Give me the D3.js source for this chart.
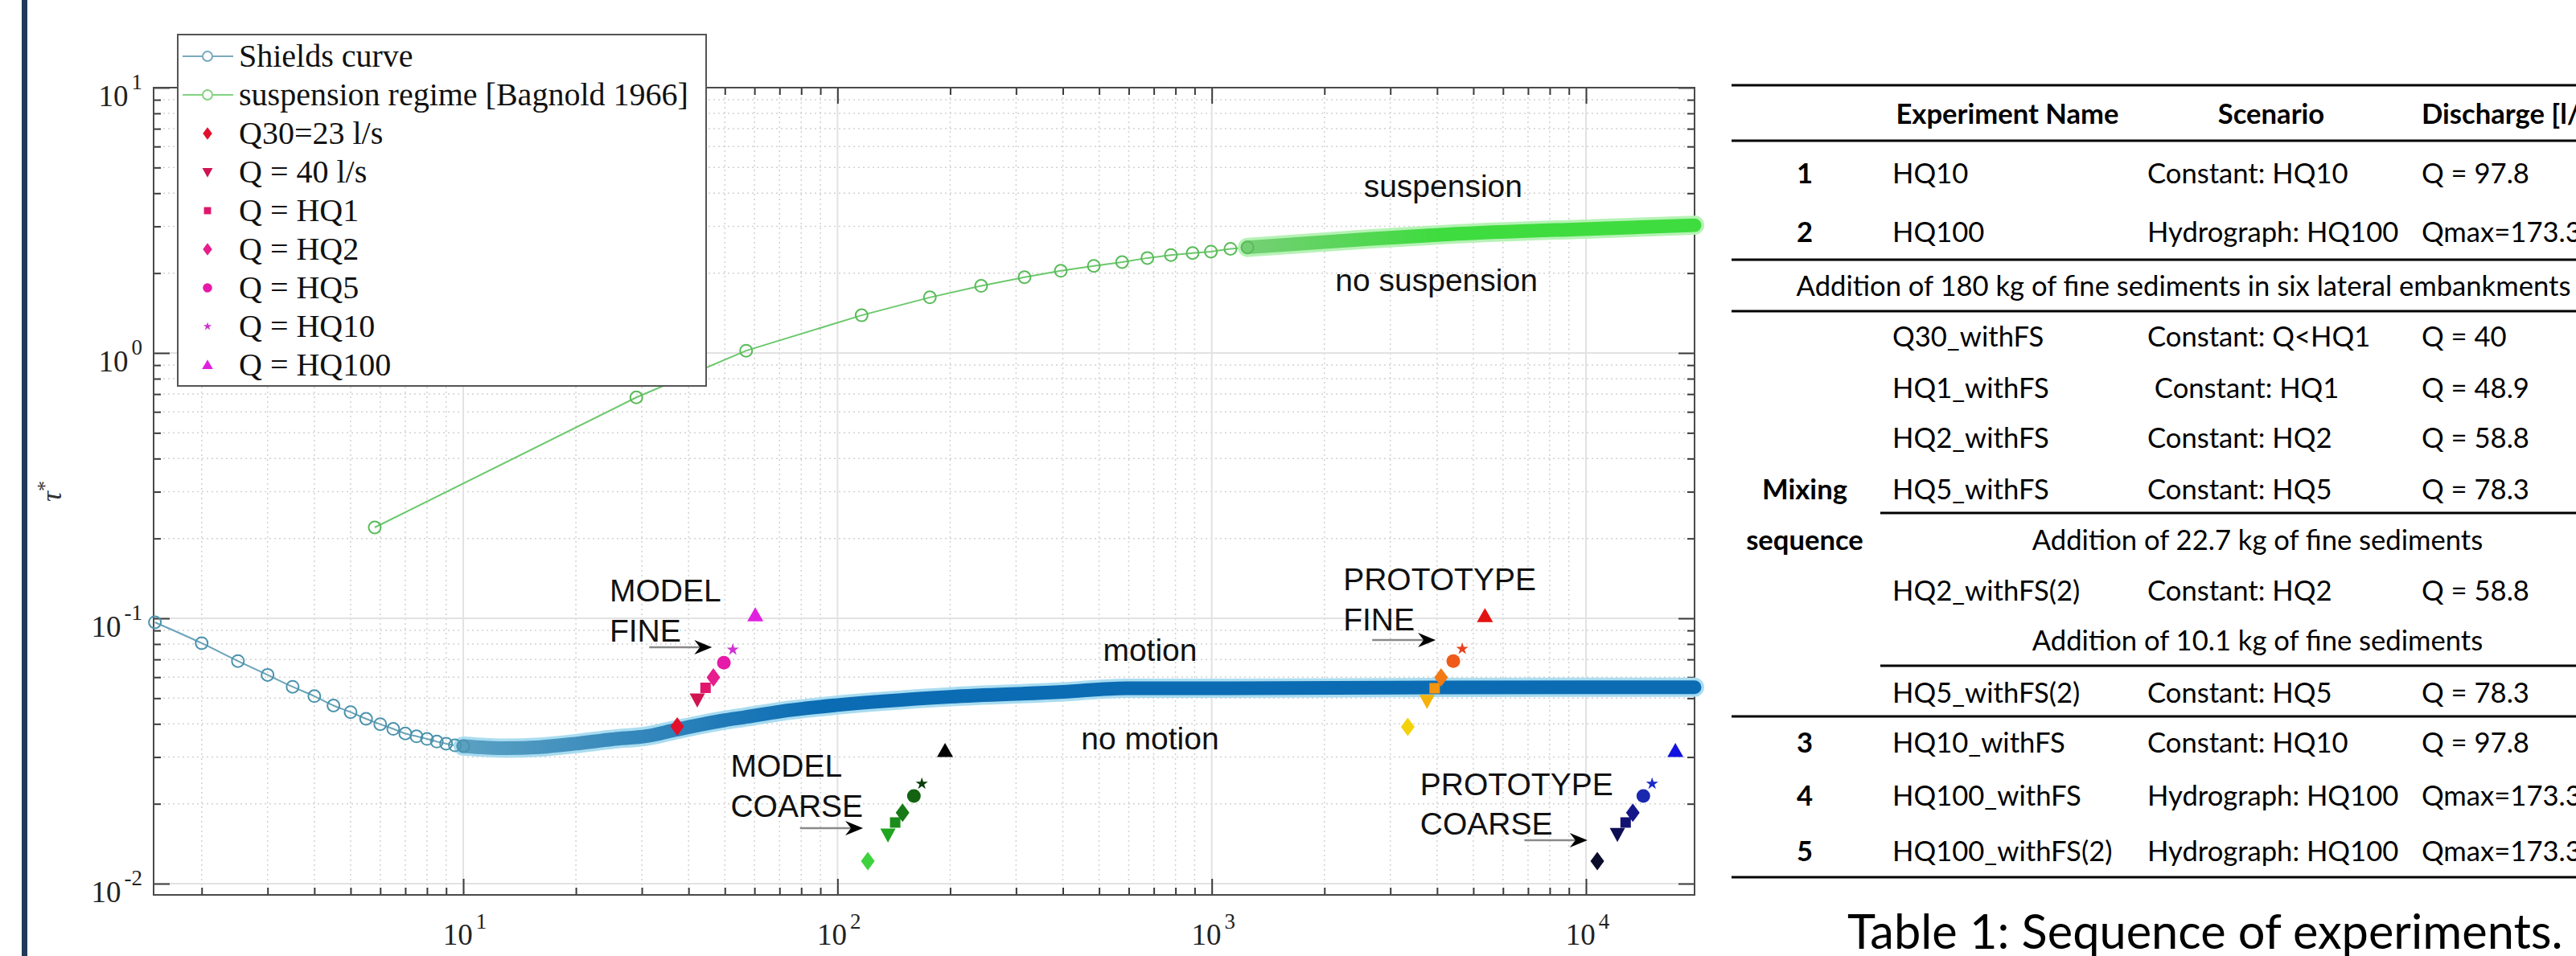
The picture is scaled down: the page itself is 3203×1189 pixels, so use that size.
<!DOCTYPE html>
<html lang="en">
<head>
<meta charset="UTF-8">
<title>Shields diagram</title>
<script src="https://cdn.jsdelivr.net/npm/d3@7/dist/d3.min.js"></script>
<style>
    body { margin: 0; background: #fff; }
    svg { display: block; }
</style>
</head>
<body>
<div id="chart"></div>
<script>
// ---------- data ----------
var shieldsX = [1.5, 2, 2.5, 3, 3.5, 4, 4.5, 5, 5.5, 6, 6.5, 7, 7.5, 8, 8.5, 9, 9.5, 10];
var shieldsY = [0.0966, 0.0806, 0.069, 0.0612, 0.0552, 0.0509, 0.0469, 0.0443, 0.0418, 0.0399, 0.0383, 0.0368, 0.0359, 0.0351, 0.0343, 0.0337, 0.0332, 0.0330];
// dense part of the Shields curve (markers merge into a band)
var shieldsBandX = [10, 13, 16, 20, 25, 31, 37, 50, 56, 70, 100, 200, 400, 590, 1000, 3000, 10000, 19500];
var shieldsBandY = [0.0330, 0.0324, 0.0327, 0.0337, 0.0350, 0.0360, 0.0380, 0.0413, 0.0423, 0.0445, 0.0471, 0.0506, 0.0528, 0.0545, 0.0545, 0.0548, 0.0550, 0.0550];

var suspX = [5.8, 29, 57, 116, 176.5, 242, 316, 395, 484, 576, 673, 778, 889, 995, 1122, 1246];
var suspY = [0.22, 0.68, 1.02, 1.387, 1.62, 1.79, 1.93, 2.04, 2.13, 2.20, 2.28, 2.34, 2.38, 2.41, 2.47, 2.50];
var suspBandX = [1246, 2626, 4276, 10520, 19500];
var suspBandY = [2.50, 2.69, 2.80, 2.94, 3.03];

var runs = ["Q30", "Q40", "HQ1", "HQ2", "HQ5", "HQ10", "HQ100"];
var modelFineX = [37.3, 42.2, 44.4, 46.6, 49.7, 52.5, 60.3];
var modelFineY = [0.0391, 0.0494, 0.0547, 0.0599, 0.068, 0.0762, 0.1027];
var modelCoarseX = [120.5, 136.4, 142.6, 149.2, 160, 168, 193.8];
var modelCoarseY = [0.01216, 0.0153, 0.0170, 0.0185, 0.0214, 0.0238, 0.0316];
var protoFineX = [3340, 3760, 3940, 4100, 4420, 4670, 5370];
var protoFineY = [0.039, 0.0488, 0.0545, 0.0599, 0.069, 0.0767, 0.102];
var protoCoarseX = [10720, 12130, 12760, 13340, 14230, 15020, 17330];
var protoCoarseY = [0.01216, 0.0154, 0.0170, 0.0185, 0.0214, 0.0238, 0.0316];

var legendLabels = ["Shields curve", "suspension regime [Bagnold 1966]", "Q30=23 l/s", "Q = 40 l/s",
    "Q = HQ1", "Q = HQ2", "Q = HQ5", "Q = HQ10", "Q = HQ100"];
var xTickValues = [10, 100, 1000, 10000];
var yTickValues = [0.01, 0.1, 1, 10];
var xTickExp = ["1", "2", "3", "4"];
var yTickExp = ["-2", "-1", "0", "1"];

// annotations: [text, x value, y value (baseline)]
var notes = [
    ["MODEL", 24.6, 0.116], ["FINE", 24.6, 0.0817],
    ["MODEL", 51.8, 0.0253], ["COARSE", 51.8, 0.01786],
    ["PROTOTYPE", 2245, 0.1276], ["FINE", 2245, 0.0901],
    ["PROTOTYPE", 3605, 0.0216], ["COARSE", 3605, 0.0153]
];
var centredNotes = [
    ["motion", 684, 0.069], ["no motion", 684, 0.0321],
    ["suspension", 4150, 3.87], ["no suspension", 3985, 1.71]
];
// arrows: [x from, x to, y]
var arrows = [[31.4, 46.2, 0.0778], [79.4, 117, 0.01618], [2684, 3966, 0.0828], [6845, 10090, 0.01458]];

// table
var tableHead = ["", "Experiment Name", "Scenario", "Discharge [l/s]"];
var tableRows = [
    ["1", "HQ10", "Constant: HQ10", "Q = 97.8"],
    ["2", "HQ100", "Hydrograph: HQ100", "Qmax=173.3"],
    ["", "Addition of 180 kg of fine sediments in six lateral embankments"],
    ["", "Q30_withFS", "Constant: Q<HQ1", "Q = 40"],
    ["", "HQ1_withFS", " Constant: HQ1", "Q = 48.9"],
    ["", "HQ2_withFS", "Constant: HQ2", "Q = 58.8"],
    ["Mixing", "HQ5_withFS", "Constant: HQ5", "Q = 78.3"],
    ["sequence", "Addition of 22.7 kg of fine sediments"],
    ["", "HQ2_withFS(2)", "Constant: HQ2", "Q = 58.8"],
    ["", "Addition of 10.1 kg of fine sediments"],
    ["", "HQ5_withFS(2)", "Constant: HQ5", "Q = 78.3"],
    ["3", "HQ10_withFS", "Constant: HQ10", "Q = 97.8"],
    ["4", "HQ100_withFS", "Hydrograph: HQ100", "Qmax=173.3"],
    ["5", "HQ100_withFS(2)", "Hydrograph: HQ100", "Qmax=173.3"]
];
var tableCaption = "Table 1: Sequence of experiments.";

// ---------- layout ----------
var W = 3203, H = 1189;
var L = 191, R = 2107, T = 109, B = 1113;
var serif = "'Liberation Serif', 'DejaVu Serif', serif";
var sans = "'Liberation Sans', Arial, sans-serif";
var tfont = "Lato, 'Open Sans', sans-serif";

var svg = d3.select("#chart").append("svg").attr("width", W).attr("height", H);
svg.append("rect").attr("width", W).attr("height", H).attr("fill", "#fff");
svg.append("rect").attr("x", 27).attr("y", 0).attr("width", 7).attr("height", H).attr("fill", "#203a5a");

var x = d3.scaleLog().domain([1.488, 19500]).range([L, R]);
var y = d3.scaleLog().domain([0.00907, 10]).range([B, T]);

function minors(lo, hi) {
    var res = [];
    for (var e = Math.floor(Math.log10(lo)); e <= Math.ceil(Math.log10(hi)); e++) {
        for (var k = 2; k <= 9; k++) {
            var v = k * Math.pow(10, e);
            if (v > lo && v < hi) res.push(v);
        }
    }
    return res;
}
var xMinor = minors(1.488, 19500), yMinor = minors(0.00907, 10);

// grid
var grid = svg.append("g");
grid.selectAll(".gxm").data(xMinor).enter().append("line")
    .attr("x1", d => x(d)).attr("x2", d => x(d)).attr("y1", T).attr("y2", B)
    .attr("stroke", "#d2d2d2").attr("stroke-width", 1.5).attr("stroke-dasharray", "2,4");
grid.selectAll(".gym").data(yMinor).enter().append("line")
    .attr("y1", d => y(d)).attr("y2", d => y(d)).attr("x1", L).attr("x2", R)
    .attr("stroke", "#d2d2d2").attr("stroke-width", 1.5).attr("stroke-dasharray", "2,4");
grid.selectAll(".gx").data(xTickValues).enter().append("line")
    .attr("x1", d => x(d)).attr("x2", d => x(d)).attr("y1", T).attr("y2", B)
    .attr("stroke", "#e2e2e2").attr("stroke-width", 2);
grid.selectAll(".gy").data(yTickValues).enter().append("line")
    .attr("y1", d => y(d)).attr("y2", d => y(d)).attr("x1", L).attr("x2", R)
    .attr("stroke", "#e2e2e2").attr("stroke-width", 2);

// axes with inward ticks on all four sides
var axG = svg.append("g");
axG.append("g").attr("transform", "translate(0," + B + ")")
    .call(d3.axisTop(x).tickValues(xMinor).tickSizeInner(9).tickSizeOuter(0).tickFormat(""));
axG.append("g").attr("transform", "translate(0," + B + ")")
    .call(d3.axisTop(x).tickValues(xTickValues).tickSizeInner(20).tickSizeOuter(0).tickFormat(""));
axG.append("g").attr("transform", "translate(0," + T + ")")
    .call(d3.axisBottom(x).tickValues(xMinor).tickSizeInner(9).tickSizeOuter(0).tickFormat(""));
axG.append("g").attr("transform", "translate(0," + T + ")")
    .call(d3.axisBottom(x).tickValues(xTickValues).tickSizeInner(20).tickSizeOuter(0).tickFormat(""));
axG.append("g").attr("transform", "translate(" + L + ",0)")
    .call(d3.axisRight(y).tickValues(yMinor).tickSizeInner(9).tickSizeOuter(0).tickFormat(""));
axG.append("g").attr("transform", "translate(" + L + ",0)")
    .call(d3.axisRight(y).tickValues(yTickValues).tickSizeInner(20).tickSizeOuter(0).tickFormat(""));
axG.append("g").attr("transform", "translate(" + R + ",0)")
    .call(d3.axisLeft(y).tickValues(yMinor).tickSizeInner(9).tickSizeOuter(0).tickFormat(""));
axG.append("g").attr("transform", "translate(" + R + ",0)")
    .call(d3.axisLeft(y).tickValues(yTickValues).tickSizeInner(20).tickSizeOuter(0).tickFormat(""));
axG.selectAll(".domain").remove();
axG.selectAll(".tick line").attr("stroke", "#3c3c3c").attr("stroke-width", 2);
svg.append("rect").attr("x", L).attr("y", T).attr("width", R - L).attr("height", B - T)
    .attr("fill", "none").attr("stroke", "#4a4a4a").attr("stroke-width", 2);

// tick labels 10^n
xTickValues.forEach(function (v, i) {
    var g = svg.append("g");
    var base = g.append("text").text("10").attr("y", 1175)
        .style("font-family", serif).style("font-size", "37px").attr("fill", "#222");
    var ex = g.append("text").text(xTickExp[i]).attr("y", 1155)
        .style("font-family", serif).style("font-size", "27px").attr("fill", "#222");
    var bw = base.node().getComputedTextLength(), ew = ex.node().getComputedTextLength();
    var x0 = x(v) - (bw + ew + 4) / 2 + 2;
    base.attr("x", x0);
    ex.attr("x", x0 + bw + 4);
});
yTickValues.forEach(function (v, i) {
    var g = svg.append("g");
    var ex = g.append("text").text(yTickExp[i]).attr("x", 177).attr("y", y(v) + 2)
        .attr("text-anchor", "end")
        .style("font-family", serif).style("font-size", "27px").attr("fill", "#222");
    var ew = ex.node().getComputedTextLength();
    g.append("text").text("10").attr("x", 177 - ew - 4).attr("y", y(v) + 23)
        .attr("text-anchor", "end")
        .style("font-family", serif).style("font-size", "37px").attr("fill", "#222");
});
var yl = svg.append("text").attr("transform", "translate(76," + ((T + B) / 2) + ") rotate(-90)")
    .attr("text-anchor", "middle").style("font-family", serif).style("font-size", "36px").attr("fill", "#333");
yl.append("tspan").text("\u03c4").style("font-style", "italic");
yl.append("tspan").text("*").attr("dy", -12).style("font-size", "26px");

// ---------- curves ----------
var line = d3.line().x(d => x(d[0])).y(d => y(d[1])).curve(d3.curveMonotoneX);
var shieldsPts = d3.zip(shieldsX, shieldsY);
var shieldsBand = d3.zip(shieldsBandX, shieldsBandY);
var suspPts = d3.zip(suspX, suspY);
var suspBand = d3.zip(suspBandX, suspBandY);

var defs = svg.append("defs");
var gb = defs.append("linearGradient").attr("id", "bandBlue").attr("gradientUnits", "userSpaceOnUse")
    .attr("x1", x(10)).attr("x2", x(90)).attr("y1", 0).attr("y2", 0);
gb.append("stop").attr("offset", 0).attr("stop-color", "#5aa0c2");
gb.append("stop").attr("offset", 1).attr("stop-color", "#0b6cb4");
var gg = defs.append("linearGradient").attr("id", "bandGreen").attr("gradientUnits", "userSpaceOnUse")
    .attr("x1", x(1246)).attr("x2", x(4000)).attr("y1", 0).attr("y2", 0);
gg.append("stop").attr("offset", 0).attr("stop-color", "#74cf74");
gg.append("stop").attr("offset", 1).attr("stop-color", "#3fdc3f");

// suspension regime
svg.append("path").attr("d", d3.line().x(d => x(d[0])).y(d => y(d[1]))(suspPts.concat(suspBand.slice(1))))
    .attr("fill", "none").attr("stroke", "#6cc86c").attr("stroke-width", 2);
svg.append("path").attr("d", line(suspBand)).attr("fill", "none")
    .attr("stroke", "#b6f2b6").attr("stroke-width", 24).attr("stroke-linecap", "round");
svg.append("path").attr("d", line(suspBand)).attr("fill", "none")
    .attr("stroke", "url(#bandGreen)").attr("stroke-width", 17).attr("stroke-linecap", "round");
svg.append("g").selectAll("circle").data(suspPts).enter().append("circle")
    .attr("cx", d => x(d[0])).attr("cy", d => y(d[1])).attr("r", 7.5)
    .attr("fill", "none").attr("stroke", "#58bb58").attr("stroke-width", 2);

// Shields curve
svg.append("path").attr("d", line(shieldsPts)).attr("fill", "none")
    .attr("stroke", "#6aa3b8").attr("stroke-width", 2);
svg.append("path").attr("d", line(shieldsBand)).attr("fill", "none")
    .attr("stroke", "#a9dcf0").attr("stroke-width", 24).attr("stroke-linecap", "round");
svg.append("path").attr("d", line(shieldsBand)).attr("fill", "none")
    .attr("stroke", "url(#bandBlue)").attr("stroke-width", 17).attr("stroke-linecap", "round");
svg.append("g").selectAll("circle").data(shieldsPts).enter().append("circle")
    .attr("cx", d => x(d[0])).attr("cy", d => y(d[1])).attr("r", 7.5)
    .attr("fill", "none").attr("stroke", "#4b93ad").attr("stroke-width", 2);

// ---------- experiment markers ----------
var shapes = ["diamond", "down", "square", "diamond", "circle", "star", "up"];
function shapePath(t, s) {
    // s = scale factor (1 = plot size)
    if (t === "diamond") return "M0," + (-11.5 * s) + "L" + (8.5 * s) + ",0L0," + (11.5 * s) + "L" + (-8.5 * s) + ",0Z";
    if (t === "up") return "M0," + (-10 * s) + "L" + (10 * s) + "," + (7.5 * s) + "L" + (-10 * s) + "," + (7.5 * s) + "Z";
    if (t === "down") return "M0," + (10 * s) + "L" + (9.5 * s) + "," + (-7.5 * s) + "L" + (-9.5 * s) + "," + (-7.5 * s) + "Z";
    if (t === "square") return d3.symbol(d3.symbolSquare, 13 * 13 * s * s)();
    if (t === "circle") return d3.symbol(d3.symbolCircle, Math.PI * 8.5 * 8.5 * s * s)();
    if (t === "star") return d3.symbol(d3.symbolStar, 8 * 8 * s * s / 0.8908130915292852)();
}
var groups = [
    { xs: modelFineX, ys: modelFineY, col: ["#e3102c", "#cf1450", "#e0176c", "#e61d8c", "#e61aa8", "#cf33cf", "#e020e0"] },
    { xs: modelCoarseX, ys: modelCoarseY, col: ["#3fd23f", "#1fa51f", "#1b8c1b", "#177a17", "#136313", "#0b3d0b", "#000000"] },
    { xs: protoFineX, ys: protoFineY, col: ["#f4d20a", "#f4b30a", "#f49410", "#f27a14", "#ef5a18", "#e8401e", "#e31212"] },
    { xs: protoCoarseX, ys: protoCoarseY, col: ["#0b0b2c", "#0e0e55", "#121272", "#15168a", "#1a28b0", "#1a2ac6", "#1212e0"] }
];
groups.forEach(function (gr) {
    svg.append("g").selectAll("path").data(runs).enter().append("path")
        .attr("d", (d, i) => shapePath(shapes[i], 1))
        .attr("transform", (d, i) => "translate(" + x(gr.xs[i]) + "," + y(gr.ys[i]) + ")")
        .attr("fill", (d, i) => gr.col[i]);
});

// ---------- annotations ----------
svg.append("g").selectAll("text").data(notes).enter().append("text")
    .attr("x", d => x(d[1])).attr("y", d => y(d[2])).text(d => d[0])
    .style("font-family", sans).style("font-size", "39px").attr("fill", "#111");
svg.append("g").selectAll("text").data(centredNotes).enter().append("text")
    .attr("x", d => x(d[1])).attr("y", d => y(d[2])).text(d => d[0]).attr("text-anchor", "middle")
    .style("font-family", sans).style("font-size", "39px").attr("fill", "#111");
arrows.forEach(function (a) {
    var x1 = x(a[0]), x2 = x(a[1]), yy = y(a[2]);
    svg.append("line").attr("x1", x1).attr("x2", x2 - 12).attr("y1", yy).attr("y2", yy)
        .attr("stroke", "#8a8a8a").attr("stroke-width", 2.5);
    svg.append("path").attr("d", "M" + x2 + "," + yy + "L" + (x2 - 22) + "," + (yy - 9) + "L" + (x2 - 15) + "," + yy + "L" + (x2 - 22) + "," + (yy + 9) + "Z")
        .attr("fill", "#000");
});

// ---------- legend ----------
var lg = svg.append("g");
lg.append("rect").attr("x", 221).attr("y", 43).attr("width", 657).attr("height", 437)
    .attr("fill", "#fff").attr("stroke", "#555").attr("stroke-width", 2);
var legendStyles = [
    { line: "#7aaabd" }, { line: "#82d482" }
].concat(runs.map(function (d, i) { return { mk: shapes[i], col: groups[0].col[i] }; }));
legendLabels.forEach(function (lab, i) {
    var cy = 70 + i * 48;
    var st = legendStyles[i];
    if (st.line) {
        lg.append("line").attr("x1", 227).attr("x2", 290).attr("y1", cy).attr("y2", cy)
            .attr("stroke", st.line).attr("stroke-width", 2);
        lg.append("circle").attr("cx", 258).attr("cy", cy).attr("r", 6)
            .attr("fill", "#fff").attr("stroke", st.line).attr("stroke-width", 2);
    } else {
        lg.append("path").attr("d", shapePath(st.mk, 0.68))
            .attr("transform", "translate(258," + cy + ")").attr("fill", st.col);
    }
    lg.append("text").attr("x", 297).attr("y", cy + 13).text(lab)
        .style("font-family", serif).style("font-size", "40px").attr("fill", "#111");
});

// ---------- table ----------
var tg = svg.append("g");
var probe = tg.append("text").text(tableRows[2][1]).style("font-family", tfont).style("font-size", "100px");
var tSize = 100 * 963 / probe.node().getComputedTextLength();
probe.remove();
var tableRight = W + 5, tableLeft = 2153;
var ruleFull = [106, 175, 323, 387, 891, 1091];
var rulePart = [638, 828];
ruleFull.forEach(function (v) {
    tg.append("line").attr("x1", tableLeft).attr("x2", tableRight).attr("y1", v).attr("y2", v)
        .attr("stroke", "#000").attr("stroke-width", 3);
});
rulePart.forEach(function (v) {
    tg.append("line").attr("x1", 2338).attr("x2", tableRight).attr("y1", v).attr("y2", v)
        .attr("stroke", "#000").attr("stroke-width", 3);
});
var rowY = [216, 289, 356, 419, 483, 545, 609, 672, 735, 797, 862, 924, 990, 1059];
var colX = [2244, 2353, 2670, 3011];
var capOff = tSize * 0.36;
function tText(str, xx, yy, anchor, bold) {
    tg.append("text").attr("x", xx).attr("y", yy + capOff).text(str)
        .attr("text-anchor", anchor).attr("xml:space", "preserve")
        .style("white-space", "pre").style("font-family", tfont).style("font-size", tSize + "px")
        .style("font-weight", bold ? "700" : "400").attr("fill", "#000");
}
tText(tableHead[1], 2496, 142, "middle", true);
tText(tableHead[2], 2824, 142, "middle", true);
tText(tableHead[3], colX[3], 142, "start", true);
tableRows.forEach(function (r, i) {
    if (r[0]) tText(r[0], colX[0], rowY[i], "middle", true);
    if (r.length === 2) {
        tText(r[1], i === 2 ? 2715 : 2807, rowY[i], "middle", false);
    } else {
        tText(r[1], colX[1], rowY[i], "start", false);
        tText(r[2], colX[2], rowY[i], "start", false);
        tText(r[3], colX[3], rowY[i], "start", false);
    }
});
var cap = tg.append("text").text(tableCaption).style("font-family", tfont).style("font-size", "100px");
var cSize = 100 * 890 / cap.node().getComputedTextLength();
cap.style("font-size", cSize + "px").attr("x", 2297).attr("y", 1180).attr("fill", "#000");
</script>
</body>
</html>
